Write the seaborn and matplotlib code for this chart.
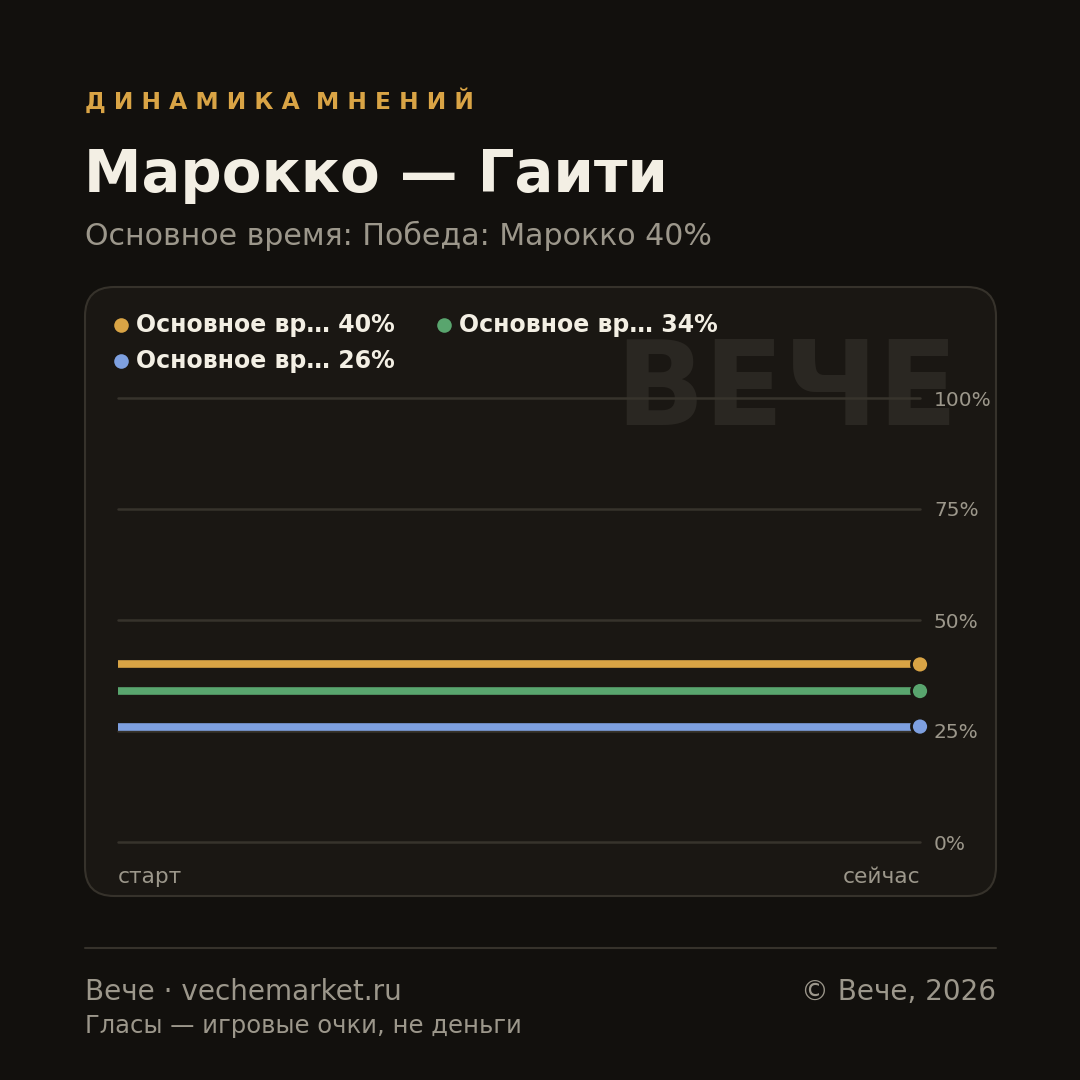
import matplotlib
matplotlib.use("Agg")
import matplotlib.pyplot as plt
from matplotlib.patches import FancyBboxPatch
from matplotlib.lines import Line2D
import seaborn as sns
import pandas as pd

# data
series_names = ["Основное вр… 40%", "Основное вр… 34%", "Основное вр… 26%"]
series_values = [40, 34, 26]
series_colors = ["#d9a445", "#59a56e", "#7ea0e0"]
x_points = [0, 1]
x_labels = ["старт", "сейчас"]
y_ticks = [0, 25, 50, 75, 100]

BG = "#12100d"
CARD = "#1a1713"
EDGE = "#36322b"
GRID = "#37332c"
MUTED = "#9c978b"
LIGHT = "#f3efe4"

W = 1080


def fx(px):
    return px / W


def fy(py):
    return 1 - py / W


sns.set_style("dark")
plt.rcParams['font.family'] = ['DejaVu Sans']

fig = plt.figure(figsize=(10.8, 10.8), dpi=100, facecolor=BG)

# card behind the plot
card = FancyBboxPatch((fx(85), fy(896)), fx(996) - fx(85), fy(287) - fy(896),
                      boxstyle="round,pad=0,rounding_size=0.027",
                      transform=fig.transFigure, facecolor=CARD, edgecolor=EDGE,
                      linewidth=1.5, zorder=-2)
fig.patches.append(card)

# watermark
fig.text(fx(958), fy(425), "ВЕЧЕ", ha="right", va="baseline", fontsize=84,
         fontweight="bold", color="#2a2722", zorder=-1)

ax = fig.add_axes([fx(118), fy(842), fx(920) - fx(118), fy(398) - fy(842)])
ax.set_zorder(2)
ax.patch.set_alpha(0)

rows = []
for name, val in zip(series_names, series_values):
    for x in x_points:
        rows.append({"series": name, "x": x, "value": val})
df = pd.DataFrame(rows)

sns.lineplot(data=df, x="x", y="value", hue="series", palette=series_colors,
             hue_order=series_names, linewidth=5.5, legend=False, ax=ax, zorder=3)

ends = df[df["x"] == x_points[-1]]
sns.scatterplot(data=ends, x="x", y="value", hue="series", palette=series_colors,
                hue_order=series_names, s=150, edgecolor=CARD, linewidth=2,
                legend=False, ax=ax, zorder=4, clip_on=False)

ax.set_xlim(0, 1)
ax.set_ylim(0, 100)
ax.set_yticks(y_ticks)
ax.set_yticklabels([f"{t}%" for t in y_ticks])
ax.yaxis.tick_right()
ax.tick_params(axis="y", length=0, pad=10, labelsize=14.5, labelcolor=MUTED)
ax.set_xticks([])
ax.set_xlabel("")
ax.set_ylabel("")
ax.grid(axis="y", color=GRID, linewidth=1.8)
ax.grid(axis="x", visible=False)
for gl in ax.get_ygridlines():
    gl.set_clip_on(False)
for s in ax.spines.values():
    s.set_visible(False)

fig.text(fx(118), fy(883), x_labels[0], ha="left", va="baseline",
         fontsize=15.6, color=MUTED)
fig.text(fx(920), fy(883), x_labels[1], ha="right", va="baseline",
         fontsize=15.6, color=MUTED)

# legend
leg_pos = [(121, 325), (444, 325), (121, 361)]
for (px, py), name, col in zip(leg_pos, series_names, series_colors):
    fig.add_artist(Line2D([fx(px)], [fy(py)], marker="o", markersize=10.5,
                          color=col, markeredgewidth=0, transform=fig.transFigure))
    fig.text(fx(px + 15), fy(py + 7), name, ha="left", va="baseline",
             fontsize=17, fontweight="bold", color=LIGHT)

# header
fig.text(fx(85), fy(109), "Д И Н А М И К А  М Н Е Н И Й", ha="left", va="baseline",
         fontsize=16.8, fontweight="bold", color="#d9a445")
fig.text(fx(84), fy(192), "Марокко — Гаити", ha="left", va="baseline",
         fontsize=41.6, fontweight="bold", color=LIGHT)
fig.text(fx(85), fy(245), "Основное время: Победа: Марокко 40%", ha="left",
         va="baseline", fontsize=21.6, color=MUTED)

# footer
fig.add_artist(Line2D([fx(85), fx(996)], [fy(948), fy(948)], color=EDGE,
                      linewidth=1.5, transform=fig.transFigure))
fig.text(fx(85), fy(1000), "Вече · vechemarket.ru", ha="left", va="baseline",
         fontsize=20.1, color=MUTED)
fig.text(fx(996), fy(1000), "© Вече, 2026", ha="right", va="baseline",
         fontsize=20.1, color=MUTED)
fig.text(fx(85), fy(1033), "Гласы — игровые очки, не деньги", ha="left",
         va="baseline", fontsize=17.5, color=MUTED)

fig.savefig("out.png", dpi=100, facecolor=BG)
